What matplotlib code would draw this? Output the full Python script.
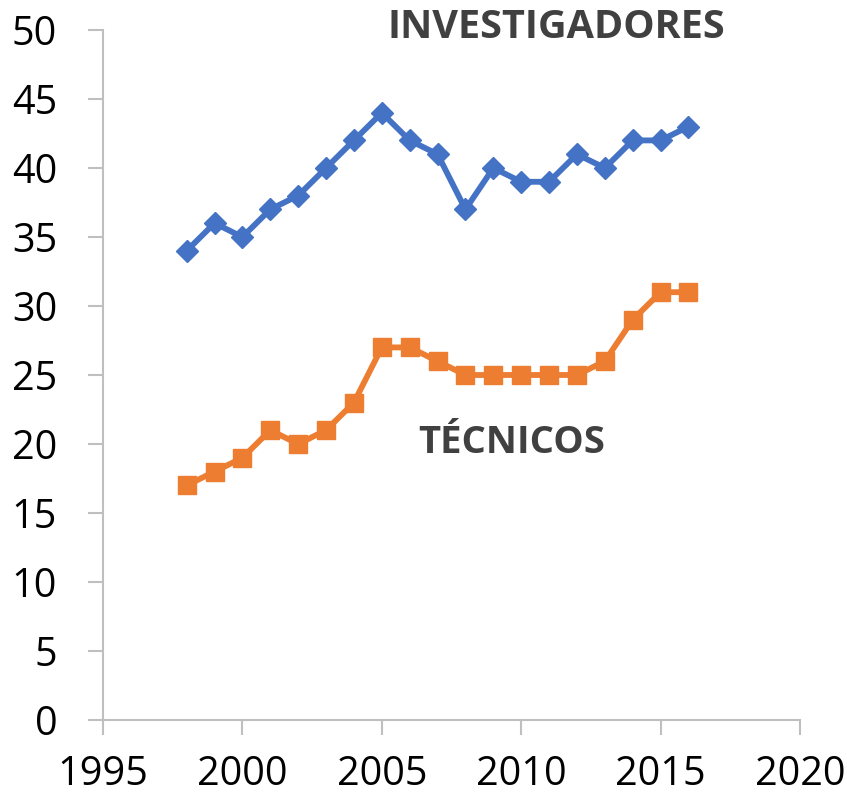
import numpy as np
import matplotlib.pyplot as plt

# data
years = [1998, 1999, 2000, 2001, 2002, 2003, 2004, 2005, 2006, 2007,
         2008, 2009, 2010, 2011, 2012, 2013, 2014, 2015, 2016]
investigadores = [34, 36, 35, 37, 38, 40, 42, 44, 42, 41,
                  37, 40, 39, 39, 41, 40, 42, 42, 43]
tecnicos = [17, 18, 19, 21, 20, 21, 23, 27, 27, 26,
            25, 25, 25, 25, 25, 26, 29, 31, 31]

plt.rcParams['font.family'] = ['Open Sans', 'DejaVu Sans']

fig = plt.figure(figsize=(8.47, 7.94), dpi=100)
ax = fig.add_axes([103/847, 1-720/794, 697/847, 690/794])

ax.plot(years, investigadores, '-', color='#4472C4', linewidth=4.2,
        marker='D', markersize=11.5, clip_on=False)
ax.plot(years, tecnicos, '-', color='#ED7D31', linewidth=4.2,
        marker='s', markersize=12.5, clip_on=False)

ax.text(2011.25, 50.2, 'INVESTIGADORES', ha='center', va='center',
        fontsize=28.5, fontweight='bold', color='#404040')
ax.text(2009.67, 20.1, 'TÉCNICOS', ha='center', va='center',
        fontsize=27.5, fontweight='bold', color='#404040')

ax.set_xlim(1995, 2020)
ax.set_ylim(0, 50)
ax.set_xticks(np.arange(1995, 2021, 5))
ax.set_yticks(np.arange(0, 51, 5))

for s in ['top', 'right']:
    ax.spines[s].set_visible(False)
for s in ['left', 'bottom']:
    ax.spines[s].set_color('#BFBFBF')
    ax.spines[s].set_linewidth(1.5)
ax.tick_params(axis='both', direction='out', length=11, width=1.5,
               color='#BFBFBF', labelsize=28.5, labelcolor='black')
ax.tick_params(axis='y', pad=22)
ax.tick_params(axis='x', pad=14)

fig.savefig('out.png', dpi=100)
